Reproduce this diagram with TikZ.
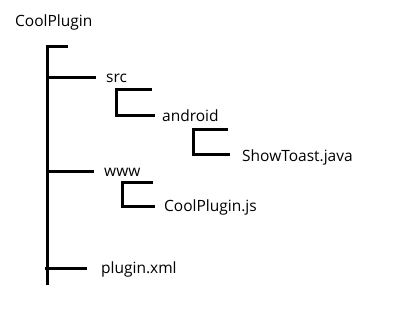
\documentclass[tikz,border=0pt]{standalone}
\usepackage{fontspec}
\setmainfont{Open Sans}
\begin{document}
\begin{tikzpicture}[x=1pt,y=-1pt,
  tree/.style={line width=3pt,line cap=butt},
  lbl/.style={anchor=west,inner sep=0pt,font=\fontsize{15.5}{18}\selectfont}]
\useasboundingbox (0,0) rectangle (396,312);
% labels
\node[lbl] (root) at (15,22) {CoolPlugin};
\node[lbl] (src) at (106,78) {src};
\node[lbl] (android) at (162,116) {android};
\node[lbl] (show) at (242,157) {ShowToast.java};
\node[lbl] (www) at (104,172) {www};
\node[lbl] (cpjs) at (164,207) {CoolPlugin.js};
\node[lbl] (xml) at (101,269) {plugin.xml};
% coordinates
\coordinate (t0) at (47.5,45);
\coordinate (t1) at (47.5,285);
\coordinate (tk) at (68,46.5);
% main trunk
\draw[tree] (t0) -- (t1);
\draw[tree] (46,46.5) -- (tk);
\draw[tree] (47.5,78) -- (96,78);
\draw[tree] (47.5,172) -- (94,172);
\draw[tree] (45,269) -- (87,269);
% src bracket
\draw[tree] (152,89.5) -| (116.5,116) -- (155,116);
% android bracket
\draw[tree] (228,129.5) -| (193.5,155) -- (230,155);
% www bracket
\draw[tree] (153,182.5) -| (122.5,207) -- (155,207);
\end{tikzpicture}
\end{document}
